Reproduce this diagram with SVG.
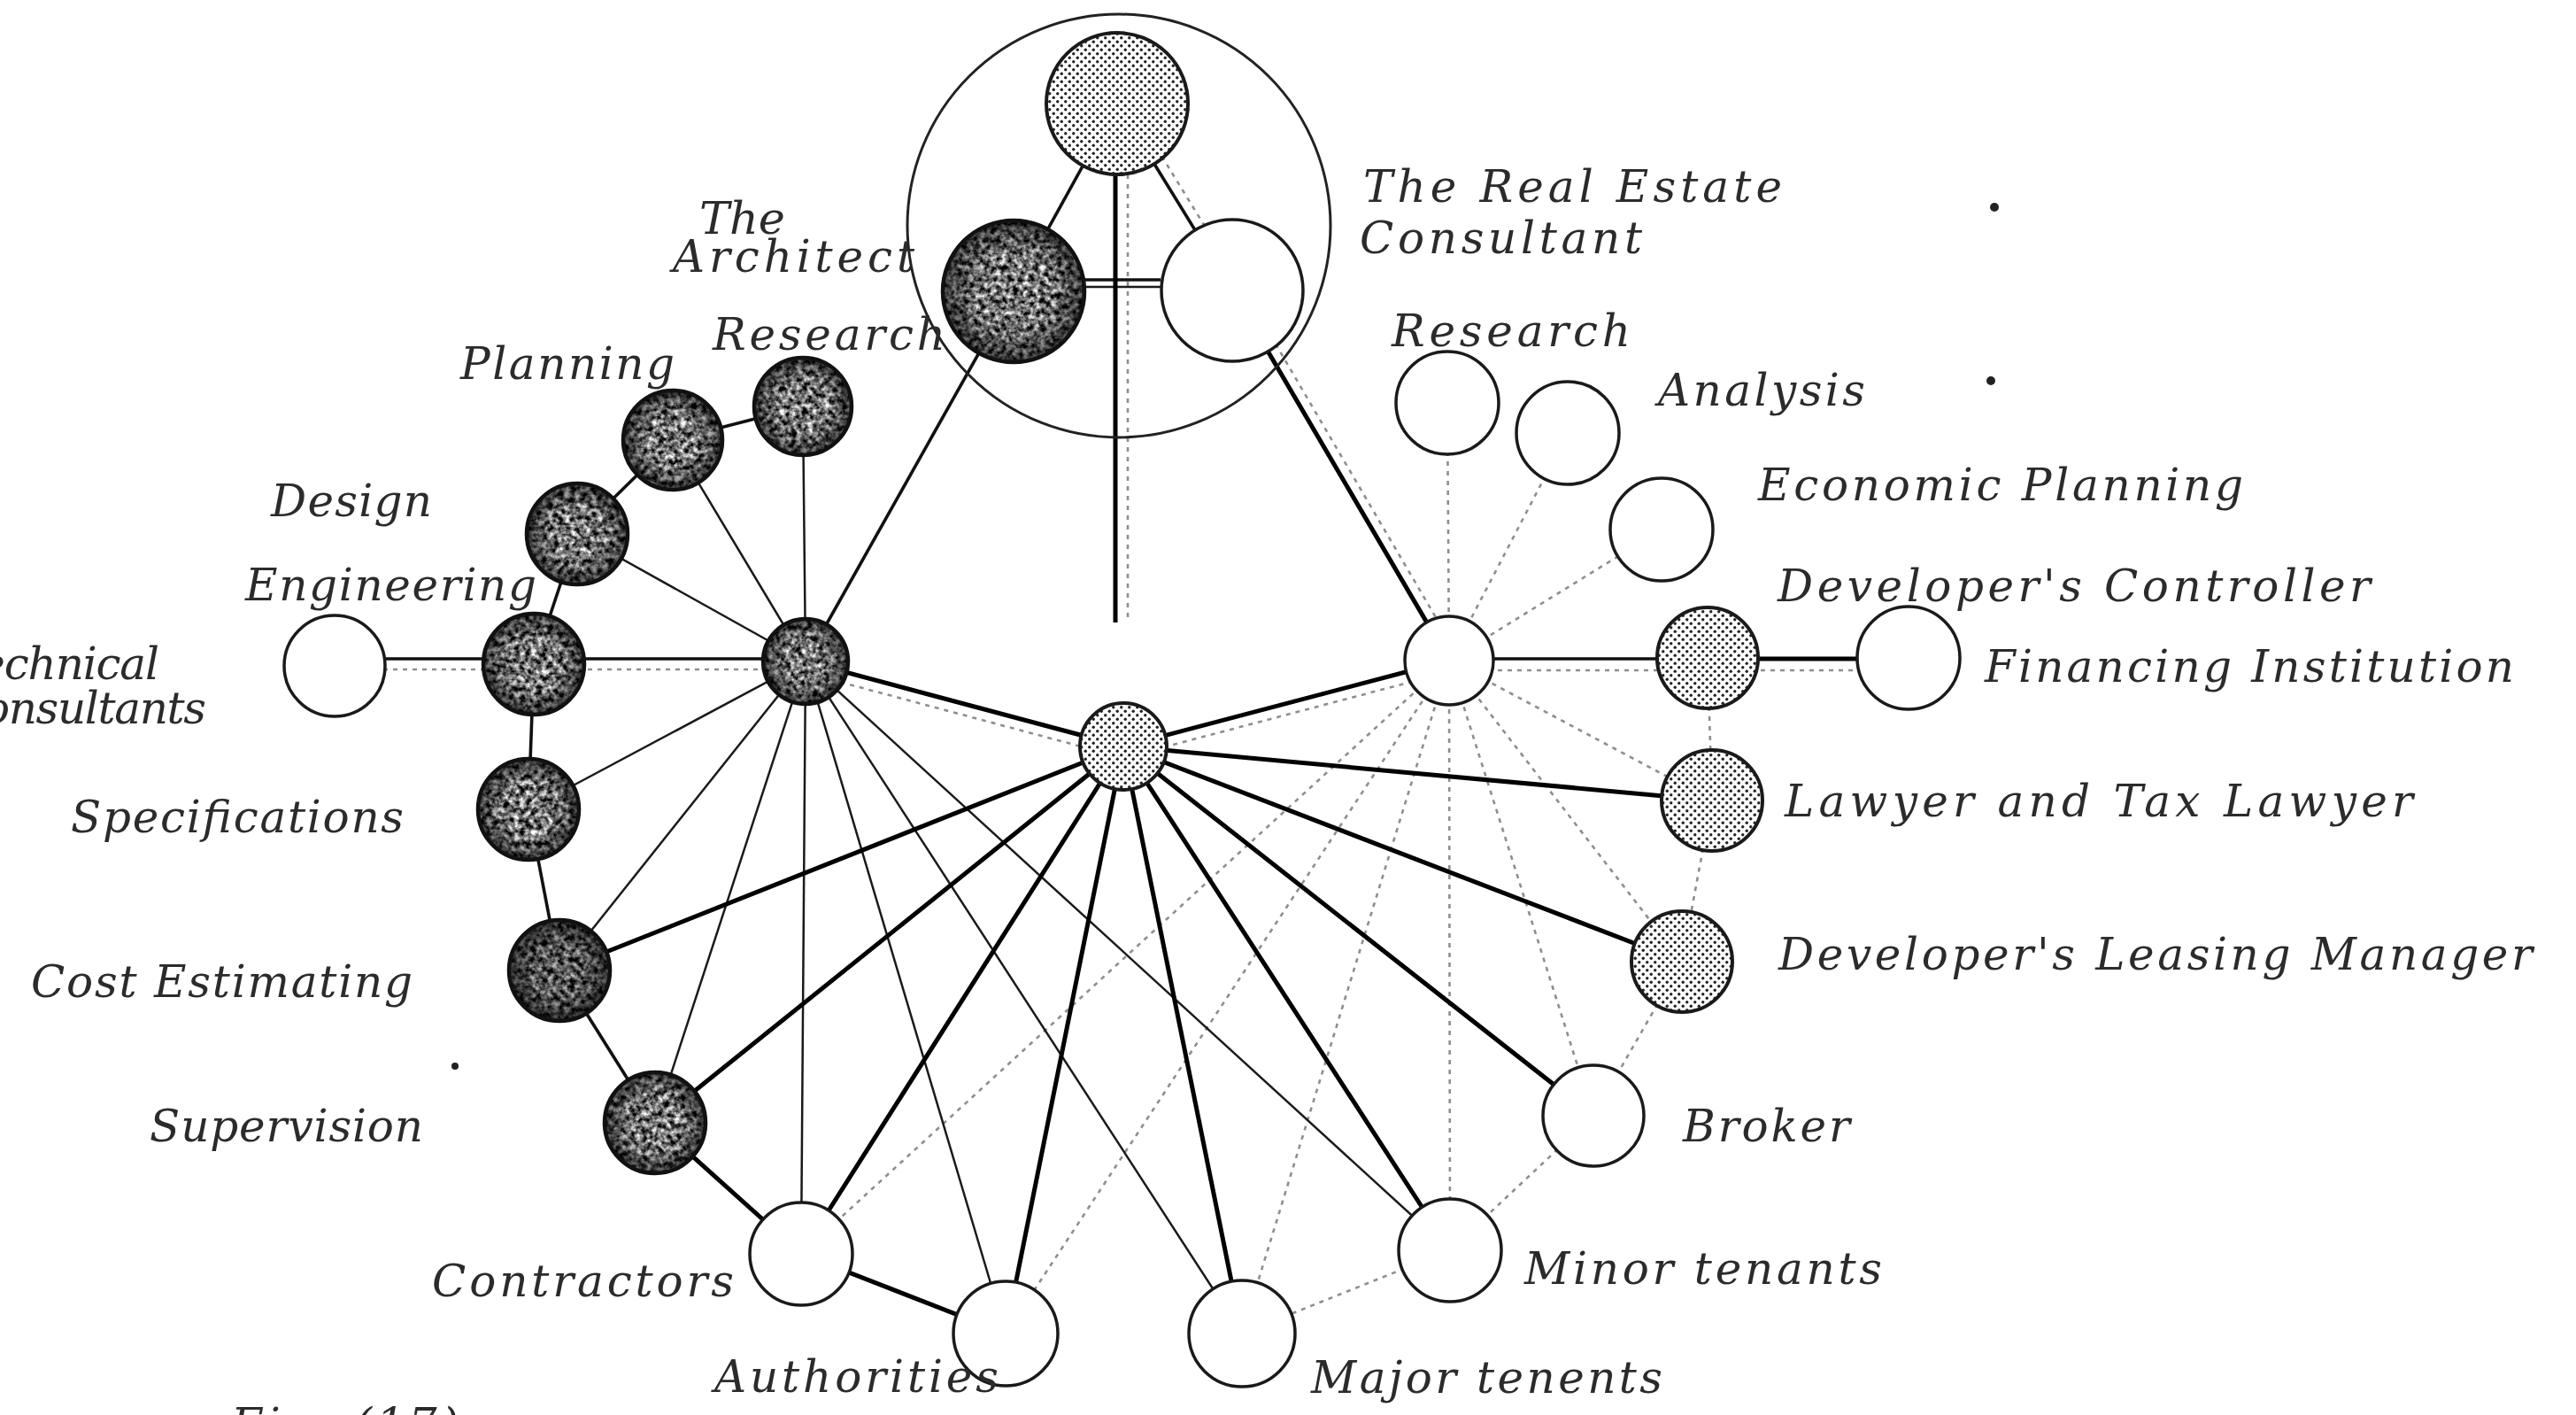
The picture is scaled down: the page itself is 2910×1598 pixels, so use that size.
<svg xmlns="http://www.w3.org/2000/svg" width="2910" height="1598" viewBox="0 0 2910 1598">
  <defs>
    <style>
      .lbl { font-family: "DejaVu Serif", "Liberation Serif", serif; font-style: italic; font-size: 50px; fill: #2b2b2b; }
      .thin { stroke: #1a1a1a; stroke-width: 2.5; fill: none; }
      .med { stroke: #111; stroke-width: 3.6; fill: none; }
      .thick { stroke: #000; stroke-width: 5; fill: none; }
      .dot { stroke: #8e8e8e; stroke-width: 2.6; stroke-dasharray: 5 6; fill: none; }
      .ring { fill: none; stroke: #111; stroke-width: 4.5; }
      .plain { fill: #fff; stroke: #1a1a1a; stroke-width: 3.5; }
      .stip { fill: url(#stipple); stroke: #1a1a1a; stroke-width: 4; }
      .tex { fill: #000; filter: url(#mottle); }
      .shade { fill: url(#edge); }
    </style>
    <!-- halftone dot fill -->
    <pattern id="stipple" width="9" height="9" patternUnits="userSpaceOnUse">
      <rect width="9" height="9" fill="#fff"/>
      <circle cx="2.25" cy="2.25" r="1.7" fill="#222"/>
      <circle cx="6.75" cy="6.75" r="1.7" fill="#222"/>
    </pattern>
    <!-- mottled dark grey fill -->
    <filter id="mottle" color-interpolation-filters="sRGB">
      <feTurbulence type="fractalNoise" baseFrequency="0.16" numOctaves="3" seed="7" result="noise"/>
      <feColorMatrix in="noise" type="matrix" values="2.0 0 0 0 -0.55  2.0 0 0 0 -0.55  2.0 0 0 0 -0.55  0 0 0 0 1" result="grey"/>
      <feComposite in="grey" in2="SourceAlpha" operator="in"/>
    </filter>
    <radialGradient id="edge">
      <stop offset="0.5" stop-color="#000" stop-opacity="0"/>
      <stop offset="1" stop-color="#000" stop-opacity="0.6"/>
    </radialGradient>
  </defs>

  <rect width="2910" height="1598" fill="#fff"/>

  <g id="connectors">
    <!-- dotted links -->
    <line class="dot" x1="1637" y1="746" x2="1635" y2="455"/>
    <line class="dot" x1="1637" y1="746" x2="1771" y2="489"/>
    <line class="dot" x1="1637" y1="746" x2="1877" y2="598"/>
    <line class="dot" x1="1637" y1="746" x2="1934" y2="904"/>
    <line class="dot" x1="1637" y1="746" x2="1900" y2="1086"/>
    <line class="dot" x1="1637" y1="746" x2="1800" y2="1260"/>
    <line class="dot" x1="1637" y1="746" x2="1638" y2="1412"/>
    <line class="dot" x1="1637" y1="746" x2="1403" y2="1506"/>
    <line class="dot" x1="1637" y1="746" x2="1136" y2="1506"/>
    <line class="dot" x1="1637" y1="746" x2="905" y2="1416"/>
    <line class="dot" x1="1929" y1="743" x2="1934" y2="904"/>
    <line class="dot" x1="1934" y1="904" x2="1900" y2="1086"/>
    <line class="dot" x1="1900" y1="1086" x2="1800" y2="1260"/>
    <line class="dot" x1="1800" y1="1260" x2="1638" y2="1412"/>
    <line class="dot" x1="1638" y1="1412" x2="1403" y2="1506"/>
    <!-- dotted companions of the main links -->
    <line class="dot" x1="907" y1="759" x2="1266" y2="855"/>
    <line class="dot" x1="1272" y1="855" x2="1640" y2="758"/>
    <line class="dot" x1="1402" y1="322" x2="1647" y2="740"/>
    <line class="dot" x1="1272" y1="111" x2="1402" y2="322"/>
    <line class="dot" x1="1274" y1="197" x2="1274" y2="700"/>
    <line class="dot" x1="378" y1="756" x2="910" y2="756"/>
    <line class="dot" x1="1637" y1="757" x2="2156" y2="757"/>

    <!-- thin spokes of the architect's hub -->
    <line class="thin" x1="910" y1="747" x2="907" y2="459"/>
    <line class="thin" x1="910" y1="747" x2="760" y2="497"/>
    <line class="thin" x1="910" y1="747" x2="652" y2="603"/>
    <line class="thin" x1="910" y1="747" x2="597" y2="914"/>
    <line class="thin" x1="910" y1="747" x2="632" y2="1096"/>
    <line class="thin" x1="910" y1="747" x2="740" y2="1268"/>
    <line class="thin" x1="910" y1="747" x2="905" y2="1416"/>
    <line class="thin" x1="910" y1="747" x2="1136" y2="1506"/>
    <line class="thin" x1="910" y1="747" x2="1403" y2="1506"/>
    <line class="thin" x1="910" y1="747" x2="1638" y2="1412"/>

    <!-- medium links -->
    <line class="med" x1="1262" y1="117" x2="1145" y2="329"/>
    <line class="med" x1="1262" y1="117" x2="1392" y2="328"/>
    <line class="med" x1="1145" y1="329" x2="910" y2="747"/>
    <line class="med" x1="907" y1="459" x2="760" y2="497"/>
    <line class="med" x1="760" y1="497" x2="652" y2="603"/>
    <line class="med" x1="652" y1="603" x2="603" y2="750"/>
    <line class="med" x1="603" y1="750" x2="597" y2="914"/>
    <line class="med" x1="597" y1="914" x2="632" y2="1096"/>
    <line class="med" x1="632" y1="1096" x2="740" y2="1268"/>
    <line class="med" x1="378" y1="744" x2="910" y2="744"/>
    <line class="med" x1="1637" y1="744" x2="1929" y2="744"/>
    <line class="med" x1="1224" y1="316" x2="1311" y2="316"/>
    <line class="thin" x1="1224" y1="324" x2="1311" y2="324"/>

    <!-- heavy links -->
    <line class="thick" x1="1260" y1="197" x2="1260" y2="703"/>
    <line class="thick" x1="1392" y1="328" x2="1637" y2="746"/>
    <line class="thick" x1="1929" y1="744" x2="2156" y2="744"/>
    <line class="thick" x1="740" y1="1268" x2="905" y2="1416"/>
    <line class="thick" x1="905" y1="1416" x2="1136" y2="1506"/>
    <line class="thick" x1="1269" y1="843" x2="910" y2="747"/>
    <line class="thick" x1="1269" y1="843" x2="1637" y2="746"/>
    <line class="thick" x1="1269" y1="843" x2="1934" y2="904"/>
    <line class="thick" x1="1269" y1="843" x2="1900" y2="1086"/>
    <line class="thick" x1="1269" y1="843" x2="1800" y2="1260"/>
    <line class="thick" x1="1269" y1="843" x2="1638" y2="1412"/>
    <line class="thick" x1="1269" y1="843" x2="1403" y2="1506"/>
    <line class="thick" x1="1269" y1="843" x2="1136" y2="1506"/>
    <line class="thick" x1="1269" y1="843" x2="905" y2="1416"/>
    <line class="thick" x1="1269" y1="843" x2="740" y2="1268"/>
    <line class="thick" x1="1269" y1="843" x2="632" y2="1096"/>
  </g>

  <!-- boundary round the design team -->
  <g id="team-boundary">
    <circle cx="1264" cy="255" r="239" fill="none" stroke="#222" stroke-width="3"/>
  </g>

  <!-- top of the hierarchy -->
  <g id="n-developer">
    <circle class="stip" cx="1262" cy="117" r="80"/>
  </g>
  <g id="n-architect">
    <circle class="tex" cx="1145" cy="329" r="80"/>
    <circle class="shade" cx="1145" cy="329" r="80"/>
    <circle class="ring" cx="1145" cy="329" r="80"/>
    <text class="lbl" x="790" y="264" textLength="97" lengthAdjust="spacingAndGlyphs">The</text>
    <text class="lbl" x="760" y="307" textLength="273" lengthAdjust="spacing">Architect</text>
  </g>
  <g id="n-real-estate-consultant">
    <circle class="plain" cx="1392" cy="328" r="80"/>
    <text class="lbl" x="1540" y="228" textLength="473" lengthAdjust="spacing">The Real Estate</text>
    <text class="lbl" x="1536" y="286" textLength="319" lengthAdjust="spacing">Consultant</text>
  </g>

  <!-- hubs -->
  <g id="n-architect-hub">
    <circle class="tex" cx="910" cy="747" r="48"/>
    <circle class="shade" cx="910" cy="747" r="48"/>
    <circle class="ring" cx="910" cy="747" r="48"/>
  </g>
  <g id="n-central-hub">
    <circle class="stip" cx="1269" cy="843" r="49"/>
  </g>
  <g id="n-consultant-hub">
    <circle class="plain" cx="1637" cy="746" r="50"/>
  </g>

  <!-- architect's services -->
  <g id="n-research-a">
    <circle class="tex" cx="907" cy="459" r="55"/>
    <circle class="shade" cx="907" cy="459" r="55"/>
    <circle class="ring" cx="907" cy="459" r="55"/>
    <text class="lbl" x="805" y="395" textLength="263" lengthAdjust="spacing">Research</text>
  </g>
  <g id="n-planning">
    <circle class="tex" cx="760" cy="497" r="56"/>
    <circle class="shade" cx="760" cy="497" r="56"/>
    <circle class="ring" cx="760" cy="497" r="56"/>
    <text class="lbl" x="520" y="428" textLength="242" lengthAdjust="spacing">Planning</text>
  </g>
  <g id="n-design">
    <circle class="tex" cx="652" cy="603" r="57"/>
    <circle class="shade" cx="652" cy="603" r="57"/>
    <circle class="ring" cx="652" cy="603" r="57"/>
    <text class="lbl" x="306" y="583" textLength="182" lengthAdjust="spacing">Design</text>
  </g>
  <g id="n-engineering">
    <circle class="tex" cx="603" cy="750" r="57"/>
    <circle class="shade" cx="603" cy="750" r="57"/>
    <circle class="ring" cx="603" cy="750" r="57"/>
    <text class="lbl" x="277" y="678" textLength="329" lengthAdjust="spacing">Engineering</text>
  </g>
  <g id="n-technical-consultants">
    <circle class="plain" cx="378" cy="752" r="57"/>
    <text class="lbl" x="-52" y="767" textLength="232" lengthAdjust="spacing">Technical</text>
    <text class="lbl" x="-56" y="817" textLength="289" lengthAdjust="spacing">Consultants</text>
  </g>
  <g id="n-specifications">
    <circle class="tex" cx="597" cy="914" r="57"/>
    <circle class="shade" cx="597" cy="914" r="57"/>
    <circle class="ring" cx="597" cy="914" r="57"/>
    <text class="lbl" x="80" y="940" textLength="376" lengthAdjust="spacing">Specifications</text>
  </g>
  <g id="n-cost-estimating">
    <circle class="tex" cx="632" cy="1096" r="57"/>
    <circle class="shade" cx="632" cy="1096" r="57"/>
    <circle cx="632" cy="1096" r="57" fill="#000" fill-opacity="0.25"/>
    <circle class="ring" cx="632" cy="1096" r="57"/>
    <text class="lbl" x="35" y="1126" textLength="431" lengthAdjust="spacing">Cost Estimating</text>
  </g>
  <g id="n-supervision">
    <circle class="tex" cx="740" cy="1268" r="57"/>
    <circle class="shade" cx="740" cy="1268" r="57"/>
    <circle class="ring" cx="740" cy="1268" r="57"/>
    <text class="lbl" x="169" y="1289" textLength="309" lengthAdjust="spacing">Supervision</text>
    <circle cx="514" cy="1204" r="4" fill="#222"/>
  </g>

  <!-- parties of the project -->
  <g id="n-contractors">
    <circle class="plain" cx="905" cy="1416" r="58"/>
    <text class="lbl" x="488" y="1464" textLength="341" lengthAdjust="spacing">Contractors</text>
  </g>
  <g id="n-authorities">
    <circle class="plain" cx="1136" cy="1506" r="59"/>
    <text class="lbl" x="807" y="1572" textLength="321" lengthAdjust="spacing">Authorities</text>
  </g>
  <g id="n-major-tenents">
    <circle class="plain" cx="1403" cy="1506" r="60"/>
    <text class="lbl" x="1481" y="1573" textLength="397" lengthAdjust="spacing">Major tenents</text>
  </g>
  <g id="n-minor-tenants">
    <circle class="plain" cx="1638" cy="1412" r="58"/>
    <text class="lbl" x="1722" y="1450" textLength="404" lengthAdjust="spacing">Minor tenants</text>
  </g>
  <g id="n-broker">
    <circle class="plain" cx="1800" cy="1260" r="57"/>
    <text class="lbl" x="1901" y="1289" textLength="189" lengthAdjust="spacing">Broker</text>
  </g>
  <g id="n-leasing-manager">
    <circle class="stip" cx="1900" cy="1086" r="57"/>
    <text class="lbl" x="2009" y="1095" textLength="852" lengthAdjust="spacing">Developer's Leasing Manager</text>
  </g>
  <g id="n-lawyer">
    <circle class="stip" cx="1934" cy="904" r="57"/>
    <text class="lbl" x="2016" y="922" textLength="710" lengthAdjust="spacing">Lawyer and Tax Lawyer</text>
  </g>
  <g id="n-controller">
    <circle class="stip" cx="1929" cy="743" r="57"/>
    <text class="lbl" x="2008" y="679" textLength="670" lengthAdjust="spacing">Developer's Controller</text>
  </g>
  <g id="n-financing">
    <circle class="plain" cx="2156" cy="743" r="58"/>
    <text class="lbl" x="2242" y="770" textLength="598" lengthAdjust="spacing">Financing Institution</text>
  </g>

  <!-- consultant's services -->
  <g id="n-economic-planning">
    <circle class="plain" cx="1877" cy="598" r="58"/>
    <text class="lbl" x="1986" y="565" textLength="548" lengthAdjust="spacing">Economic Planning</text>
  </g>
  <g id="n-analysis">
    <circle class="plain" cx="1771" cy="489" r="58"/>
    <text class="lbl" x="1873" y="458" textLength="234" lengthAdjust="spacing">Analysis</text>
  </g>
  <g id="n-research-c">
    <circle class="plain" cx="1635" cy="455" r="58"/>
    <text class="lbl" x="1572" y="391" textLength="270" lengthAdjust="spacing">Research</text>
  </g>

  <!-- stray marks and caption -->
  <circle cx="2253" cy="234" r="5" fill="#222"/>
  <circle cx="2249" cy="430" r="5" fill="#222"/>
  <text class="lbl" x="261" y="1626" textLength="257" lengthAdjust="spacing">Fig. (17)</text>
</svg>
